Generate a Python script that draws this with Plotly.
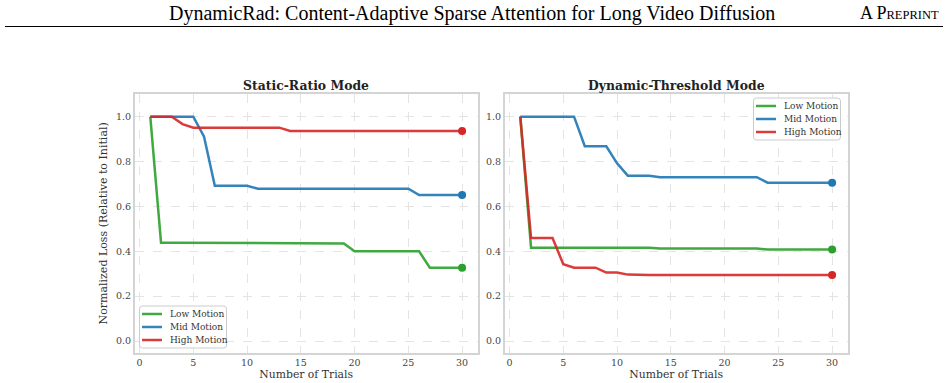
import plotly.graph_objects as go

# ---------------- data ----------------
trials = list(range(1, 31))
series_names = ["Low Motion", "Mid Motion", "High Motion"]
series_colors = ["#2ca02c", "#1f77b4", "#d62728"]

static_low = [1.0] + [0.438] * 14 + [0.435] * 4 + [0.400] * 7 + [0.327] * 4
static_mid = [1.0] * 5 + [0.911] + [0.692] * 4 + [0.679] * 15 + [0.651] * 5
static_high = [1.0] * 3 + [0.967] + [0.951] * 9 + [0.936] * 17

dyn_low = [1.0] + [0.416] * 12 + [0.412] * 10 + [0.408] * 7
dyn_mid = [1.0] * 6 + [0.868] * 3 + [0.792] + [0.737] * 3 + [0.730] * 10 + [0.706] * 7
dyn_high = [1.0] + [0.459] * 3 + [0.342] + [0.327] * 3 + [0.305] * 2 + [0.296] + [0.294] * 19

panel_titles = ["Static-Ratio Mode", "Dynamic-Threshold Mode"]
x_ticks = [0, 5, 10, 15, 20, 25, 30]
y_ticks = [0.0, 0.2, 0.4, 0.6, 0.8, 1.0]
header_title = "DynamicRad: Content-Adaptive Sparse Attention for Long Video Diffusion"

# ---------------- figure ----------------
W, H = 948, 383
SERIF = "DejaVu Serif"
fig = go.Figure()

panels = [
    ([static_low, static_mid, static_high], "x", "y"),
    ([dyn_low, dyn_mid, dyn_high], "x2", "y2"),
]
for vals_list, xa, ya in panels:
    for name, col, vals in zip(series_names, series_colors, vals_list):
        fig.add_trace(go.Scatter(
            x=trials, y=vals, mode="lines", name=name,
            line=dict(color=col, width=2.5), opacity=0.9,
            xaxis=xa, yaxis=ya, showlegend=False,
        ))
    for name, col, vals in zip(series_names, series_colors, vals_list):
        fig.add_trace(go.Scatter(
            x=[trials[-1]], y=[vals[-1]], mode="markers",
            marker=dict(color=col, size=8), showlegend=False,
            xaxis=xa, yaxis=ya, hoverinfo="skip",
        ))


def px_x(p):
    return p / W


def px_y(p):
    return 1 - p / H


ydom = [px_y(352.7), px_y(94)]
doms = [[px_x(134.7), px_x(477.7)], [px_x(504.7), px_x(847.7)]]

common_x = dict(range=[-0.45, 31.45], tickvals=x_ticks, showgrid=True,
                griddash="dash", gridcolor="#e4e4e4", gridwidth=0.8,
                showline=True, mirror=True, linecolor="#d4d4d4", linewidth=1.5,
                zeroline=False, ticks="", ticklen=0,
                tickfont=dict(family=SERIF, size=9.5, color="#444"),
                title=dict(text="Number of Trials", standoff=0,
                           font=dict(family=SERIF, size=10.8, color="#333")))
common_y = dict(range=[-0.052, 1.101], tickvals=y_ticks, tickformat=".1f",
                showgrid=True, griddash="dash", gridcolor="#e4e4e4", gridwidth=0.8,
                showline=True, mirror=True, linecolor="#d4d4d4", linewidth=1.5,
                zeroline=False, ticks="", ticklen=0,
                tickfont=dict(family=SERIF, size=9.5, color="#444"))

fig.update_layout(
    width=W, height=H, margin=dict(l=0, r=0, t=0, b=0),
    paper_bgcolor="white", plot_bgcolor="white",
    xaxis=dict(domain=doms[0], anchor="y", **common_x),
    yaxis=dict(domain=ydom, anchor="x",
               title=dict(text="Normalized Loss (Relative to Initial)", standoff=6,
                          font=dict(family=SERIF, size=11, color="#333")),
               **common_y),
    xaxis2=dict(domain=doms[1], anchor="y2", **common_x),
    yaxis2=dict(domain=ydom, anchor="x2", **common_y),
    showlegend=False,
)

for title, dom in zip(panel_titles, doms):
    fig.add_annotation(text=f"<b>{title}</b>", xref="paper", yref="paper",
                       x=(dom[0] + dom[1]) / 2, y=px_y(85), xanchor="center",
                       yanchor="middle", showarrow=False,
                       font=dict(family=SERIF, size=12.4, color="#222"))


# legends (matplotlib-style compact boxes)
def draw_legend(left, top, width=87, height=42, r=3):
    x0, x1, y0, y1 = left, left + width, top, top + height
    path = (f"M {px_x(x0 + r)},{px_y(y0)} L {px_x(x1 - r)},{px_y(y0)} "
            f"Q {px_x(x1)},{px_y(y0)} {px_x(x1)},{px_y(y0 + r)} "
            f"L {px_x(x1)},{px_y(y1 - r)} Q {px_x(x1)},{px_y(y1)} {px_x(x1 - r)},{px_y(y1)} "
            f"L {px_x(x0 + r)},{px_y(y1)} Q {px_x(x0)},{px_y(y1)} {px_x(x0)},{px_y(y1 - r)} "
            f"L {px_x(x0)},{px_y(y0 + r)} Q {px_x(x0)},{px_y(y0)} {px_x(x0 + r)},{px_y(y0)} Z")
    fig.add_shape(type="path", path=path, xref="paper", yref="paper",
                  fillcolor="rgba(255,255,255,0.85)", line=dict(color="#cccccc", width=1))
    for i, (name, col) in enumerate(zip(series_names, series_colors)):
        yy = top + 8 + 13 * i
        fig.add_shape(type="line", xref="paper", yref="paper",
                      x0=px_x(left + 2.5), x1=px_x(left + 22.5),
                      y0=px_y(yy), y1=px_y(yy),
                      line=dict(color=col, width=2.5), opacity=0.9)
        fig.add_annotation(text=name, xref="paper", yref="paper",
                           x=px_x(left + 28), y=px_y(yy), xanchor="left",
                           yanchor="middle", showarrow=False,
                           font=dict(family=SERIF, size=9, color="#333"))


draw_legend(139.5, 306)
draw_legend(753.5, 98)

# page header
fig.add_annotation(text=header_title, xref="paper", yref="paper",
                   x=px_x(777), y=px_y(13), xanchor="right", yanchor="middle",
                   showarrow=False,
                   font=dict(family="Liberation Serif", size=20, color="black"))
fig.add_annotation(text="A P<span style='font-size:12.5px'>REPRINT</span>",
                   xref="paper", yref="paper",
                   x=px_x(941), y=px_y(13), xanchor="right", yanchor="middle",
                   showarrow=False,
                   font=dict(family="Liberation Serif", size=18, color="black"))
fig.add_shape(type="line", xref="paper", yref="paper",
              x0=px_x(5), x1=px_x(943), y0=px_y(26.5), y1=px_y(26.5),
              line=dict(color="black", width=1))

fig.write_html("out.html")
